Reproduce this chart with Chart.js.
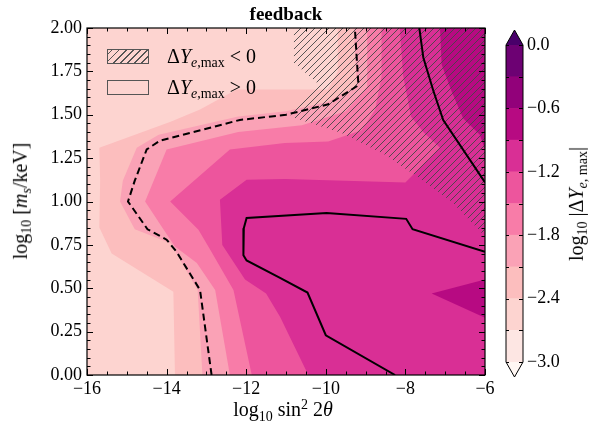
<!DOCTYPE html>
<html>
<head>
<meta charset="utf-8">
<script src="https://cdn.jsdelivr.net/npm/chart.js@4/dist/chart.umd.min.js"></script>
<style>
  body { margin: 0; background: #fff; }
  #wrap { position: relative; width: 596px; height: 433px; font-family: "Liberation Serif", serif; }
  canvas { position: absolute; top: 0; }
  .lbl { position: absolute; white-space: nowrap; font-size: 20px; color: #000; line-height: 1; }
  .lbl sub { font-size: 70%; vertical-align: -0.3em; }
  .lbl sup { font-size: 70%; vertical-align: 0.5em; }
  .op { margin: 0 5px; }
  .box { position: absolute; width: 42px; height: 15px; border: 1px solid #555; box-sizing: border-box; }
</style>
</head>
<body>
<div id="wrap">
  <canvas id="main" width="596" height="433" style="left:0"></canvas>
  <canvas id="cbar" width="116" height="433" style="left:480px"></canvas>
  <div class="lbl" style="left:22px;top:201px;transform:translate(-50%,-50%) rotate(-90deg)">log<sub>10</sub> [<i>m</i><sub><i>s</i></sub>/keV]</div>
  <div class="lbl" style="left:283px;top:411px;transform:translate(-50%,-50%)">log<sub>10</sub> sin<sup>2</sup> 2<i>θ</i></div>
  <div class="lbl" style="left:578px;top:204px;transform:translate(-50%,-50%) rotate(-90deg)">log<sub>10</sub> |Δ<i>Y</i><sub><i>e</i>, max</sub>|</div>
  <div class="box" id="hatchBox" style="left:107px;top:49px;"></div>
  <div class="lbl" style="left:167px;top:46px;">Δ<i>Y</i><sub><i>e</i>,max</sub><span class="op">&lt;</span>0</div>
  <div class="box" style="left:107px;top:80px;background:#fdd4d0;"></div>
  <div class="lbl" style="left:167px;top:77px;">Δ<i>Y</i><sub><i>e</i>,max</sub><span class="op">&gt;</span>0</div>
</div>
<script>
// contour levels of log10|dY_e,max| and their colours (RdPu, extended both ends)
const levels = [-3.0, -2.7, -2.4, -2.1, -1.8, -1.5, -1.2, -0.9, -0.6, -0.3, 0.0];
const levelColors = ['#fde6e3', '#fdd4d0', '#fcbebe', '#faa2b6', '#f87ca8', '#ed559d', '#d92f95', '#b70a82', '#92017a', '#6d0173'];
const underColor = '#fff7f3';
const overColor = '#49006a';

const xTicks = [-16, -14, -12, -10, -8, -6];
const yTicks = [0, 0.25, 0.5, 0.75, 1.0, 1.25, 1.5, 1.75, 2.0];

// superlevel regions (x = log10 sin^2 2theta, y = log10 m_s/keV)
const regionM27 = [[-16,0],[-6,0],[-6,2],[-16,2],[-16,0]];
const regionM24 = [[-9.70,2.0],[-9.70,1.75],[-9.95,1.645],[-12.24,1.645],[-13.16,1.53],[-13.9,1.46],[-15.69,1.31],[-15.67,1.12],[-15.69,0.85],[-15.38,0.70],[-13.83,0.48],[-13.79,0],[-6,0],[-6,2],[-9.70,2.0]];
const regionM21 = [[-9.30,2.0],[-9.22,1.67],[-9.95,1.575],[-11.0,1.52],[-12.2,1.49],[-14.2,1.385],[-14.75,1.31],[-15.1,1.12],[-15.17,1.0],[-14.8,0.84],[-13.9,0.76],[-13.22,0.49],[-13.1,0],[-6,0],[-6,2],[-9.30,2.0]];
const regionM18 = [[-8.96,2.0],[-8.96,1.66],[-9.5,1.52],[-10.6,1.44],[-12.2,1.40],[-14.0,1.30],[-14.54,1.0],[-14.08,0.84],[-13.79,0.74],[-13.24,0.645],[-12.78,0.49],[-12.41,0],[-6,0],[-6,2],[-8.96,2.0]];
const regionM15 = [[-8.60,2.0],[-8.60,1.72],[-8.76,1.53],[-9.1,1.41],[-9.94,1.346],[-11.03,1.337],[-12.41,1.30],[-13.91,1.0],[-13.2,0.837],[-12.9,0.72],[-12.32,0.49],[-11.86,0],[-6,0],[-6,2],[-8.60,2.0]];
const regionM12 = [[-8.14,2.0],[-8.06,1.73],[-7.86,1.49],[-7.55,1.40],[-7.13,1.31],[-8.0,1.11],[-11.03,1.13],[-11.99,1.125],[-12.66,1.01],[-12.6,0.75],[-12.03,0.55],[-11.5,0.47],[-11.15,0.336],[-10.44,0],[-6,0],[-6,2],[-8.14,2.0]];
const regionM09a = [[-7.13,2.0],[-7.09,1.79],[-6.84,1.635],[-6.55,1.48],[-6.13,1.385],[-6,1.30],[-6,2],[-7.13,2.0]];
const regionM09b = [[-6,0.55],[-7.34,0.47],[-6,0.33],[-6,0.55]];

// region where dY_e,max < 0 (hatched)
const negRegion = [[-10.8,2.0],[-10.8,1.80],[-10.2,1.68],[-10.9,1.49],[-9.6,1.395],[-8.51,1.27],[-7.72,1.145],[-6.84,1.0],[-6,0.80],[-6,2],[-10.8,2.0]];

// contour lines
const dashedLine = [[-12.87,0],[-13.16,0.49],[-13.75,0.71],[-14.0,0.78],[-14.48,0.84],[-14.97,1.0],[-14.8,1.12],[-14.5,1.30],[-14.17,1.35],[-12.16,1.47],[-11.0,1.50],[-9.94,1.56],[-9.18,1.67],[-9.27,2.0]];
const solidLineA = [[-7.65,2.0],[-7.55,1.83],[-7.3,1.64],[-7.05,1.47],[-6.0,1.11]];
const solidLineB = [[-6.0,0.71],[-7.82,0.84],[-7.98,0.90],[-9.98,0.933],[-11.99,0.905],[-12.06,0.846],[-12.07,0.69],[-11.99,0.66],[-11.15,0.56],[-10.46,0.475],[-10.0,0.229],[-8.26,0]];

const serif = 'Liberation Serif';
const fmtMinus = s => s.replace('-', '\u2212');
const pts = arr => arr.map(p => ({x: p[0], y: p[1]}));

function hatchPattern(ctx) {
  const c = document.createElement('canvas');
  c.width = 7; c.height = 7;
  const g = c.getContext('2d');
  g.strokeStyle = 'rgba(70,70,70,0.9)';
  g.lineWidth = 1;
  g.beginPath();
  g.moveTo(-1, 8); g.lineTo(8, -1);
  g.moveTo(-1, 1); g.lineTo(1, -1);
  g.moveTo(6, 8); g.lineTo(8, 6);
  g.stroke();
  return ctx.createPattern(c, 'repeat');
}

const mainCtx = document.getElementById('main').getContext('2d');
const hatch = hatchPattern(mainCtx);
document.getElementById('hatchBox').style.background =
  'repeating-linear-gradient(-45deg, #fdd4d0 0 4px, #555 4px 5px)';

function area(arr, color, order) {
  return {data: pts(arr), fill: 'shape', backgroundColor: color, borderWidth: 0,
          pointRadius: 0, order: order};
}
function contour(arr, dash) {
  return {data: pts(arr), fill: false, borderColor: '#000', borderWidth: 2,
          borderDash: dash, pointRadius: 0, order: 0};
}

// inward ticks and frame around the plot
const frameTicks = {
  id: 'frameTicks',
  afterDatasetsDraw(chart) {
    const {ctx, chartArea: a, scales: {x, y}} = chart;
    ctx.save();
    ctx.strokeStyle = '#000';
    ctx.lineWidth = 1;
    const seg = (x1, y1, x2, y2) => { ctx.beginPath(); ctx.moveTo(x1, y1); ctx.lineTo(x2, y2); ctx.stroke(); };
    for (let i = 0; i <= 20; i++) {
      const v = -16 + i * 0.5;
      const px = Math.round(x.getPixelForValue(v)) + 0.5;
      const L = i % 4 === 0 ? 6 : 3.5;
      seg(px, a.bottom, px, a.bottom - L);
      seg(px, a.top, px, a.top + L);
    }
    for (let i = 0; i <= 40; i++) {
      const v = i * 0.05;
      const py = Math.round(y.getPixelForValue(v)) + 0.5;
      const L = i % 5 === 0 ? 6 : 3.5;
      seg(a.left, py, a.left + L, py);
      seg(a.right, py, a.right - L, py);
    }
    ctx.lineWidth = 1.2;
    ctx.strokeRect(a.left, a.top, a.right - a.left, a.bottom - a.top);
    ctx.restore();
  }
};

new Chart(mainCtx, {
  type: 'line',
  data: {
    datasets: [
      area(regionM27, levelColors[1], 20),
      area(regionM24, levelColors[2], 19),
      area(regionM21, levelColors[3], 18),
      area(regionM18, levelColors[4], 17),
      area(regionM15, levelColors[5], 16),
      area(regionM12, levelColors[6], 15),
      area(regionM09a, levelColors[7], 14),
      area(regionM09b, levelColors[7], 13),
      area(negRegion, hatch, 5),
      contour(dashedLine, [7, 4]),
      contour(solidLineA, []),
      contour(solidLineB, [])
    ]
  },
  options: {
    responsive: false,
    animation: false,
    layout: {padding: {left: 0, right: 111, top: 0, bottom: 0}},
    plugins: {
      legend: {display: false},
      tooltip: {enabled: false},
      title: {
        display: true, text: 'feedback', fullSize: false, color: '#000',
        font: {family: serif, size: 19, weight: 'bold', lineHeight: 1.2},
        padding: {top: 4, bottom: 1.2}
      }
    },
    scales: {
      x: {
        type: 'linear', min: -16, max: -6,
        afterBuildTicks: s => { s.ticks = xTicks.map(v => ({value: v})); },
        ticks: {color: '#000', font: {family: serif, size: 18}, padding: 3,
                callback: v => fmtMinus(String(v)), maxRotation: 0},
        grid: {display: false, drawTicks: false},
        border: {display: false},
        afterFit: s => { s.height = 58; }
      },
      y: {
        type: 'linear', min: 0, max: 2,
        afterBuildTicks: s => { s.ticks = yTicks.map(v => ({value: v})); },
        ticks: {color: '#000', font: {family: serif, size: 18}, padding: 5,
                callback: v => Number(v).toFixed(2)},
        grid: {display: false, drawTicks: false},
        border: {display: false},
        afterFit: s => { s.width = 87; }
      }
    }
  },
  plugins: [frameTicks]
});

// colour bar
const cbarExtras = {
  id: 'cbarExtras',
  afterDatasetsDraw(chart) {
    const {ctx, chartArea: a, scales: {y}} = chart;
    const cx = (a.left + a.right) / 2;
    const ext = 15;
    ctx.save();
    ctx.fillStyle = overColor;
    ctx.beginPath(); ctx.moveTo(a.left, a.top); ctx.lineTo(cx, a.top - ext); ctx.lineTo(a.right, a.top); ctx.closePath(); ctx.fill();
    ctx.fillStyle = underColor;
    ctx.beginPath(); ctx.moveTo(a.left, a.bottom); ctx.lineTo(cx, a.bottom + ext); ctx.lineTo(a.right, a.bottom); ctx.closePath(); ctx.fill();
    ctx.strokeStyle = '#000';
    ctx.lineWidth = 1;
    for (const v of levels) {
      const py = Math.round(y.getPixelForValue(v)) + 0.5;
      ctx.beginPath();
      ctx.moveTo(a.left, py); ctx.lineTo(a.left + 3, py);
      ctx.moveTo(a.right, py); ctx.lineTo(a.right - 4, py);
      ctx.stroke();
    }
    ctx.beginPath();
    ctx.moveTo(a.left, a.top); ctx.lineTo(cx, a.top - ext); ctx.lineTo(a.right, a.top);
    ctx.lineTo(a.right, a.bottom); ctx.lineTo(cx, a.bottom + ext); ctx.lineTo(a.left, a.bottom);
    ctx.closePath(); ctx.stroke();
    ctx.restore();
  }
};

new Chart(document.getElementById('cbar'), {
  type: 'bar',
  data: {
    labels: [''],
    datasets: levelColors.map((c, i) => ({
      data: [[levels[i], levels[i + 1]]], backgroundColor: c, borderWidth: 0,
      barPercentage: 1, categoryPercentage: 1, grouped: false
    }))
  },
  options: {
    responsive: false,
    animation: false,
    layout: {padding: {left: 26, top: 45, bottom: 71, right: 0}},
    plugins: {legend: {display: false}, tooltip: {enabled: false}},
    scales: {
      x: {display: false},
      y: {
        position: 'right', min: -3, max: 0,
        ticks: {stepSize: 0.6, color: '#000', font: {family: serif, size: 18}, padding: 4,
                callback: v => Math.abs(v) < 1e-9 ? '0.0' : fmtMinus(Number(v).toFixed(1))},
        grid: {display: false, drawTicks: false},
        border: {display: false},
        afterFit: s => { s.width = 73; }
      }
    }
  },
  plugins: [cbarExtras]
});
</script>
</body>
</html>
